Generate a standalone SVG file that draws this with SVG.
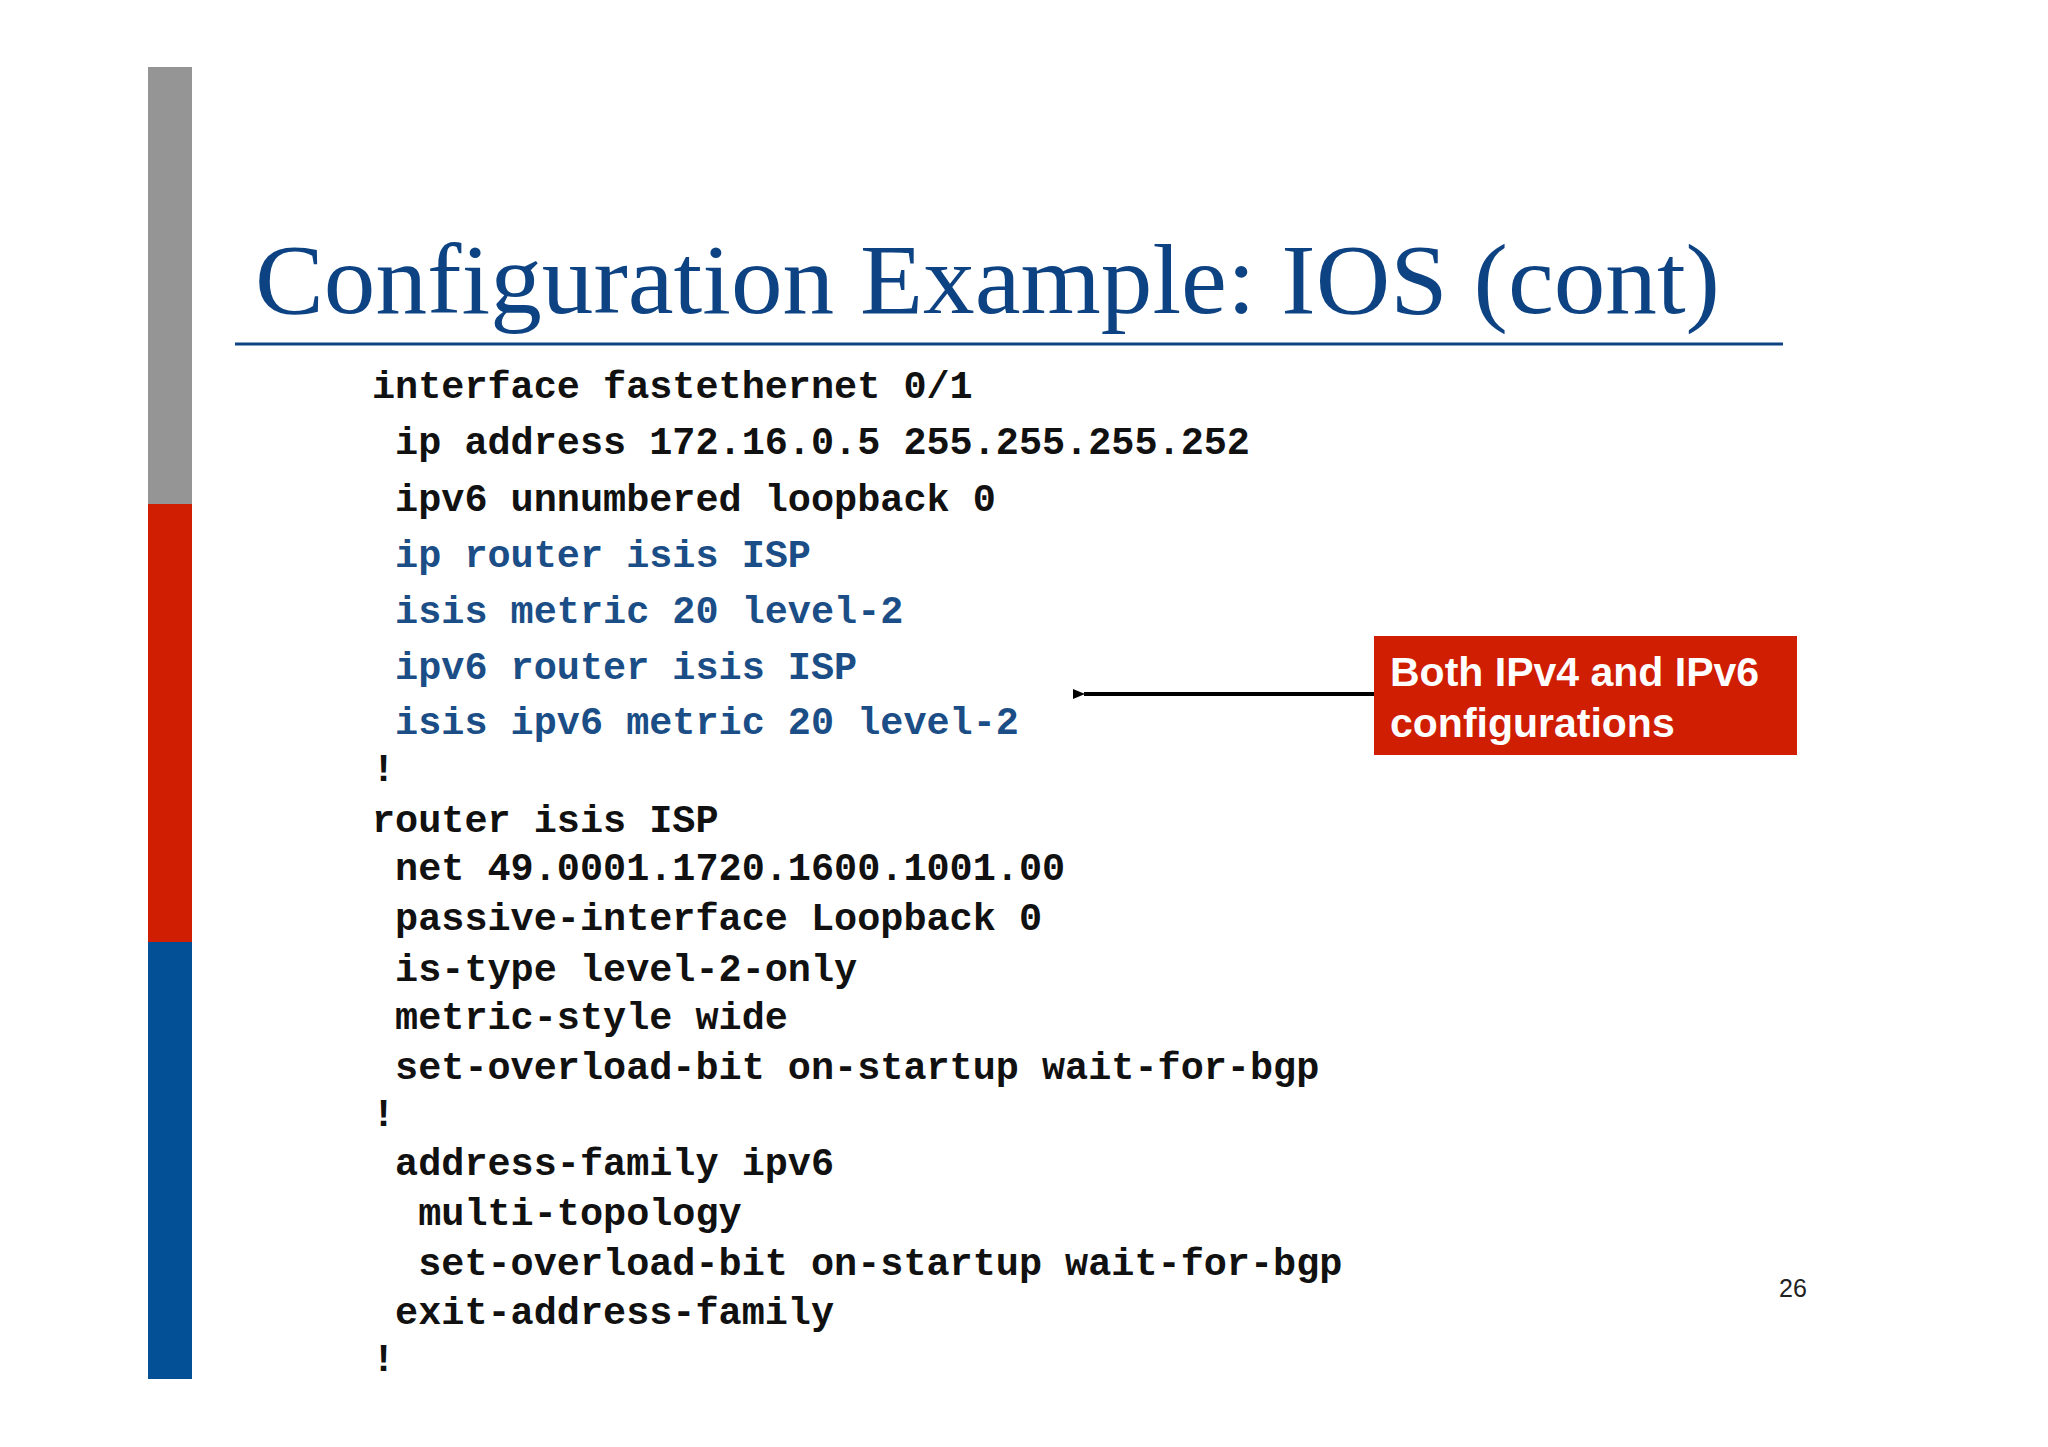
<svg xmlns="http://www.w3.org/2000/svg" width="2048" height="1447" viewBox="0 0 2048 1447">
<style>
.c{font-family:"Liberation Mono","Courier New",monospace;font-weight:bold;font-size:38.5px;fill:#111;white-space:pre}
.b{fill:#1b4e86}
</style>
<defs><marker id="ah" markerWidth="12" markerHeight="10" refX="1" refY="5" orient="auto" markerUnits="userSpaceOnUse"><path d="M12,0 L0,5 L12,10 Z" fill="#000"/></marker></defs>
<rect width="2048" height="1447" fill="#fff"/>
<rect x="148" y="67" width="44" height="437" fill="#959595"/>
<rect x="148" y="504" width="44" height="438" fill="#cf1e02"/>
<rect x="148" y="942" width="44" height="437" fill="#045096"/>
<text x="255" y="313" font-family="Liberation Serif,serif" font-size="100" fill="#0e4383" textLength="1465" lengthAdjust="spacingAndGlyphs">Configuration Example: IOS (cont)</text>
<line x1="235" y1="344" x2="1783" y2="344" stroke="#0e4383" stroke-width="3"/>
<g id="code" xml:space="preserve">
<text class="c" x="372" y="398">interface fastethernet 0/1</text>
<text class="c" x="372" y="454"> ip address 172.16.0.5 255.255.255.252</text>
<text class="c" x="372" y="511"> ipv6 unnumbered loopback 0</text>
<text class="c b" x="372" y="567"> ip router isis ISP</text>
<text class="c b" x="372" y="623"> isis metric 20 level-2</text>
<text class="c b" x="372" y="679"> ipv6 router isis ISP</text>
<text class="c b" x="372" y="734"> isis ipv6 metric 20 level-2</text>
<text class="c" x="372" y="781">!</text>
<text class="c" x="372" y="832">router isis ISP</text>
<text class="c" x="372" y="880"> net 49.0001.1720.1600.1001.00</text>
<text class="c" x="372" y="930"> passive-interface Loopback 0</text>
<text class="c" x="372" y="981"> is-type level-2-only</text>
<text class="c" x="372" y="1029"> metric-style wide</text>
<text class="c" x="372" y="1079"> set-overload-bit on-startup wait-for-bgp</text>
<text class="c" x="372" y="1126">!</text>
<text class="c" x="372" y="1175"> address-family ipv6</text>
<text class="c" x="372" y="1225">  multi-topology</text>
<text class="c" x="372" y="1275">  set-overload-bit on-startup wait-for-bgp</text>
<text class="c" x="372" y="1324"> exit-address-family</text>
<text class="c" x="372" y="1371">!</text>
</g>
<g id="connectors"><line x1="1374" y1="694" x2="1084" y2="694" stroke="#000" stroke-width="4" marker-end="url(#ah)"/></g>
<g id="callout">
<rect x="1374" y="636" width="423" height="119" fill="#cf1e02"/>
<text x="1390" y="686" font-family="Liberation Sans,Arial,sans-serif" font-weight="bold" font-size="41" fill="#fff">Both IPv4 and IPv6</text>
<text x="1390" y="737" font-family="Liberation Sans,Arial,sans-serif" font-weight="bold" font-size="41" fill="#fff">configurations</text>
</g>
<text x="1779" y="1297" font-family="Liberation Sans,Arial,sans-serif" font-size="25" fill="#222">26</text>
</svg>
